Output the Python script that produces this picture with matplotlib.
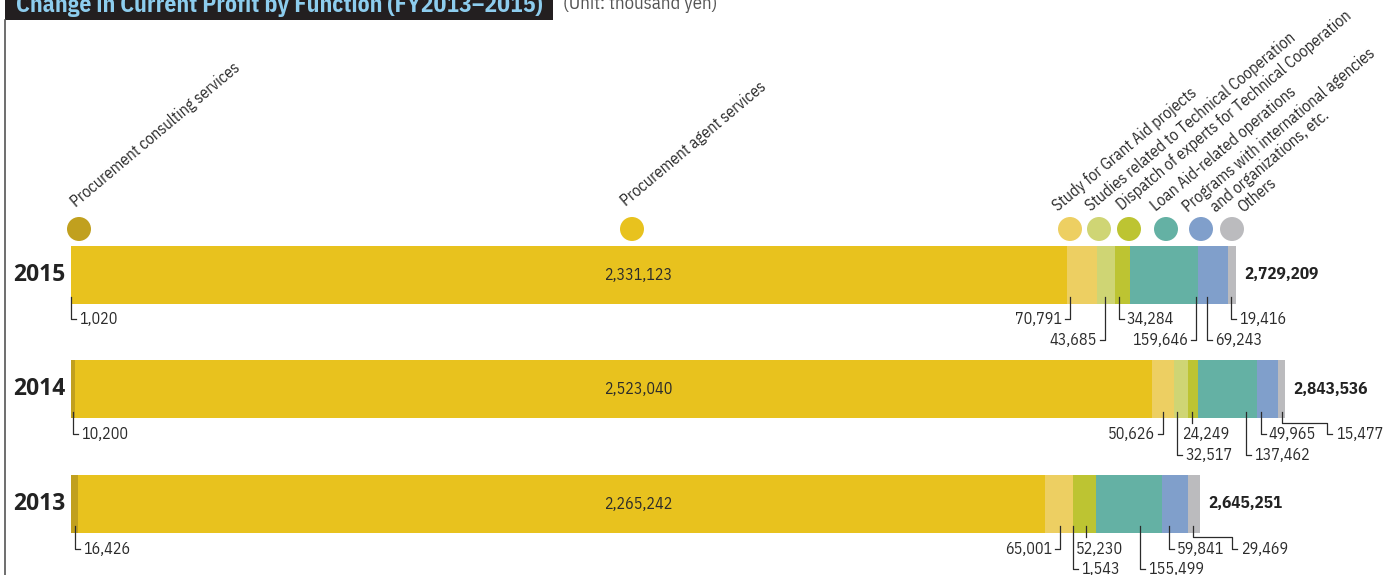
import numpy as np
import matplotlib
matplotlib.use('Agg')
import matplotlib.pyplot as plt
from matplotlib.patches import Rectangle
from matplotlib.lines import Line2D

# ---------------------------------------------------------------------------
# Data (thousand yen)
# ---------------------------------------------------------------------------
years = ['2015', '2014', '2013']
functions = ['Procurement consulting services',
             'Procurement agent services',
             'Study for Grant Aid projects',
             'Studies related to Technical Cooperation',
             'Dispatch of experts for Technical Cooperation',
             'Loan Aid-related operations',
             'Programs with international agencies\nand organizations, etc.',
             'Others']
consulting = [1020, 10200, 16426]
agent = [2331123, 2523040, 2265242]
grant_study = [70791, 50626, 65001]
tc_studies = [43685, 32517, 1543]
experts = [34284, 24249, 52230]
loan_aid = [159646, 137462, 155499]
intl_programs = [69243, 49965, 59841]
others = [19416, 15477, 29469]
totals = [2729209, 2843536, 2645251]

series = [consulting, agent, grant_study, tc_studies, experts,
          loan_aid, intl_programs, others]
colors = ['#C1A01E', '#E8C21E', '#EDCF62', '#CFD574', '#BDC432',
          '#64B1A4', '#809FCB', '#BBBBBE']

# ---------------------------------------------------------------------------
# Layout (pixels of the 1397x575 canvas)
# ---------------------------------------------------------------------------
W, H = 1397, 575
X0 = 71                      # bar origin
PX_PER_UNIT = 1165 / 2729209
ROW0, ROW_STEP, BAR_H = 275, 114.5, 58
legend_x = [79, 632, 1070, 1099, 1129, 1166, 1201, 1232]
legend_y = 229
# baseline start of each text line of the rotated labels
label_anchor = [[(76, 208)], [(626, 207)], [(1058, 212)], [(1091, 212)],
                [(1122, 211)], [(1156, 212)], [(1188, 213), (1216, 213)],
                [(1243, 213)]]
agent_label_x = 638
# leader lines: (fraction along segment, level, side, elbow px)
leaders = [
    [(0.5, 'a', 'R', 0), None, (0.11, 'a', 'L', 0), (0.45, 'b', 'L', 0),
     (0.24, 'a', 'R', 0), (0.97, 'b', 'L', 0), (0.30, 'b', 'R', 0), (0.37, 'a', 'R', 0)],
    [(0.45, 'a', 'R', 0), None, (0.49, 'a', 'L', 0), (0.22, 'b', 'R', 0),
     (0.40, 'a', 'B', 0), (0.81, 'b', 'R', 0), (0.19, 'a', 'R', 0), (0.58, 'a', 'E', 45)],
    [(0.57, 'a', 'R', 0), None, (0.54, 'a', 'L', 0), (0.50, 'b', 'R', 0),
     (0.57, 'a', 'B', 0), (0.67, 'b', 'R', 0), (0.27, 'a', 'R', 0), (0.43, 'a', 'E', 39)],
]
LEVEL = {'a': 15.5, 'b': 36}

NARROW = ['IBM Plex Sans Condensed', 'DejaVu Sans']
TXT = '#2B2B2B'


def xd(px):
    return (px - X0) / PX_PER_UNIT


def dx(px):
    return px / PX_PER_UNIT


def yd(py):
    return (py - ROW0) / ROW_STEP


def dy(py):
    return py / ROW_STEP


fig = plt.figure(figsize=(W / 100, H / 100), dpi=100)
ax = fig.add_axes([0, 0, 1, 1])
ax.set_xlim(xd(0), xd(W))
ax.set_ylim(yd(H), yd(0))
ax.axis('off')

ypos = np.arange(len(years))
bar_h = dy(BAR_H)

# stacked bars
left = np.zeros(len(years))
for vals, col in zip(series, colors):
    ax.barh(ypos, vals, left=left, height=bar_h, color=col, linewidth=0)
    left = left + np.array(vals)

# legend dots + rotated labels
ax.scatter([xd(x) for x in legend_x], [yd(legend_y)] * len(legend_x),
           s=(24 * 0.72) ** 2, c=colors, linewidths=0, zorder=3)
for name, anchors in zip(functions, label_anchor):
    for line, (sx, sy) in zip(name.split('\n'), anchors):
        ax.text(xd(sx), yd(sy), line, rotation=40, rotation_mode='anchor',
                ha='left', va='baseline', fontsize=11.7, family=NARROW,
                color=TXT)

# year labels, totals, agent values
for i, yr in enumerate(years):
    ax.text(xd(65), ypos[i], yr, ha='right', va='center', fontsize=16.5,
            fontweight='bold', family=['Open Sans', 'DejaVu Sans'], color='#222222')
    ax.text(totals[i] + dx(8.5), ypos[i], f'{totals[i]:,}', ha='left',
            va='center', fontsize=12.3, fontweight='bold', family=NARROW,
            color='#222222')
    ax.text(xd(agent_label_x), ypos[i], f'{agent[i]:,}', ha='center',
            va='center', fontsize=11.5, family=NARROW, color=TXT)

# leader lines with value labels
lw = 0.9
for i in range(len(years)):
    cum = 0
    bottom = ypos[i] + bar_h / 2
    top = bottom - dy(7)
    for k, vals in enumerate(series):
        v = vals[i]
        spec = leaders[i][k]
        if spec is not None:
            frac, lev, side, elbow = spec
            xl = cum + frac * v
            yl = bottom + dy(LEVEL[lev])
            lab = f'{v:,}'
            kw = dict(fontsize=11.5, family=NARROW, color=TXT, va='center')
            if side == 'L':
                ax.plot([xl, xl, xl - dx(5)], [top, yl, yl], color=TXT, lw=lw)
                ax.text(xl - dx(8), yl, lab, ha='right', **kw)
            elif side == 'R':
                ax.plot([xl, xl, xl + dx(5)], [top, yl, yl], color=TXT, lw=lw)
                ax.text(xl + dx(8), yl, lab, ha='left', **kw)
            elif side == 'B':
                ax.plot([xl, xl], [top, bottom + dy(4)], color=TXT, lw=lw)
                ax.text(xl - dx(10), yl, lab, ha='left', **kw)
            else:
                ye = bottom + dy(4)
                xe = xl + dx(elbow)
                ax.plot([xl, xl, xe, xe, xe + dx(5)], [top, ye, ye, yl, yl],
                        color=TXT, lw=lw)
                ax.text(xe + dx(9), yl, lab, ha='left', **kw)
        cum += v

# title strip, unit note and frame line
fig.add_artist(Rectangle((5 / W, 1 - 20 / H), 548 / W, 30 / H,
                         transform=fig.transFigure, color='#231F20', lw=0))
fig.text(16 / W, 1 - 12 / H, 'Change in Current Profit by Function (FY2013\u20132015)',
         va='baseline', ha='left', fontsize=17, fontweight='bold',
         family=NARROW, color='#8DCDEE')
fig.text(563 / W, 1 - 9 / H, '(Unit: thousand yen)', va='baseline', ha='left',
         fontsize=13.5, family=NARROW, color='#555555')
fig.add_artist(Line2D([4.5 / W, 4.5 / W], [0, 1 - 20 / H],
                      transform=fig.transFigure, color='#555555', lw=1.2))

fig.savefig('out.png', dpi=100)
